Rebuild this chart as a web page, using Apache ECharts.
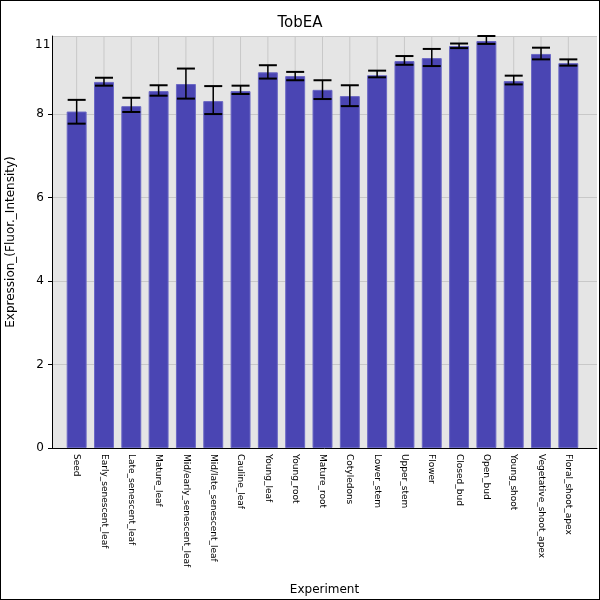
<!DOCTYPE html><html><head><meta charset="utf-8">
<script src="https://cdn.jsdelivr.net/npm/echarts@6/dist/echarts.min.js"></script>
<style>html,body{margin:0;padding:0}#c{width:598px;height:598px;border:1px solid #000}</style></head><body><div id="c"></div>
<script>
const categories=["Seed","Early_senescent_leaf","Late_senescent_leaf","Mature_leaf","Mid/early_senescent_leaf","Mid/late_senescent_leaf","Cauline_leaf","Young_leaf","Young_root","Mature_root","Cotyledons","Lower_stem","Upper_stem","Flower","Closed_bud","Open_bud","Young_shoot","Vegetative_shoot_apex","Floral_shoot_apex"];
const values=[8.06,8.77,8.19,8.55,8.72,8.31,8.55,9.0,8.91,8.58,8.43,8.93,9.27,9.34,9.63,9.75,8.79,9.44,9.22];
const errHigh=[8.34,8.87,8.39,8.69,9.09,8.67,8.68,9.17,9.01,8.81,8.69,9.04,9.39,9.56,9.69,9.87,8.92,9.59,9.31];
const errLow=[7.77,8.68,8.05,8.44,8.37,8.0,8.48,8.85,8.81,8.36,8.19,8.88,9.18,9.15,9.58,9.68,8.71,9.31,9.16];
const YMAX=9.87;
const font='DejaVu Sans';
const c=echarts.init(document.getElementById('c'));
c.setOption({
 animation:false,
 title:{text:'TobEA',left:'center',top:10,textStyle:{fontFamily:font,fontSize:15,fontWeight:'normal',color:'#000'}},
 grid:[
  {left:51,right:2,top:35,bottom:151,backgroundColor:'#e5e5e5',show:true,borderWidth:0,outerBoundsMode:'none',containLabel:false},
  {left:62,right:17,top:35,bottom:151,show:false,outerBoundsMode:'none',containLabel:false}
 ],
 xAxis:[
  {gridIndex:0,type:'value',min:0,max:1,axisLabel:{show:false},axisTick:{show:false},splitLine:{show:false},
   axisLine:{show:true,onZero:false,lineStyle:{color:'#000'}},name:'Experiment',nameLocation:'middle',nameGap:136,
   nameTextStyle:{fontFamily:font,fontSize:12,color:'#000'}},
  {gridIndex:1,type:'category',data:categories,
   axisLine:{show:false},axisTick:{alignWithLabel:true,length:4,lineStyle:{color:'#000'}},
   axisLabel:{rotate:-90,fontSize:9,fontFamily:font,color:'#000',interval:0,margin:6},
   splitLine:{show:false}}
 ],
 yAxis:[
  {gridIndex:0,type:'value',min:0,max:YMAX,interval:2,name:'Expression_(Fluor._Intensity)',nameLocation:'middle',nameGap:35,
   nameTextStyle:{fontFamily:font,fontSize:12,color:'#000'},
   axisLine:{show:true,lineStyle:{color:'#000'}},axisTick:{show:true,length:4,lineStyle:{color:'#000'}},
   axisLabel:{fontFamily:font,fontSize:12,color:'#000',showMaxLabel:false,formatter:v=>v>9?'':String(v)},
   splitLine:{lineStyle:{color:'#c8c8c8'}}},
  {gridIndex:1,type:'value',min:0,max:YMAX,show:false,splitLine:{show:false}}
 ],
 graphic:[{type:'text',left:34,top:38,style:{text:'11',font:'12px DejaVu Sans',fill:'#000'}}],
 series:[
  {type:'custom',xAxisIndex:1,yAxisIndex:1,data:categories.map((_,i)=>[i]),z:1,silent:true,
   renderItem:(p,api)=>{const a=api.coord([api.value(0),0]),b=api.coord([api.value(0),YMAX]);
    return {type:'line',shape:{x1:a[0],y1:a[1],x2:b[0],y2:b[1]},style:{stroke:'#c8c8c8',lineWidth:1}};}},
  {type:'bar',xAxisIndex:1,yAxisIndex:1,data:values,barWidth:'73%',z:2,itemStyle:{color:'#4a45b3',borderColor:'#6b68c4',borderWidth:1}},
  {type:'custom',xAxisIndex:1,yAxisIndex:1,data:categories.map((_,i)=>[i,errLow[i],errHigh[i]]),z:10,
   renderItem:(p,api)=>{const lo=api.coord([api.value(0),api.value(1)]),hi=api.coord([api.value(0),api.value(2)]);const w=9;
    return {type:'group',children:[
     {type:'line',shape:{x1:lo[0],y1:lo[1],x2:hi[0],y2:hi[1]},style:{stroke:'#000',lineWidth:1.5}},
     {type:'line',shape:{x1:lo[0]-w,y1:lo[1],x2:lo[0]+w,y2:lo[1]},style:{stroke:'#000',lineWidth:2}},
     {type:'line',shape:{x1:hi[0]-w,y1:hi[1],x2:hi[0]+w,y2:hi[1]},style:{stroke:'#000',lineWidth:2}}]};}}
 ]});
</script></body></html>
